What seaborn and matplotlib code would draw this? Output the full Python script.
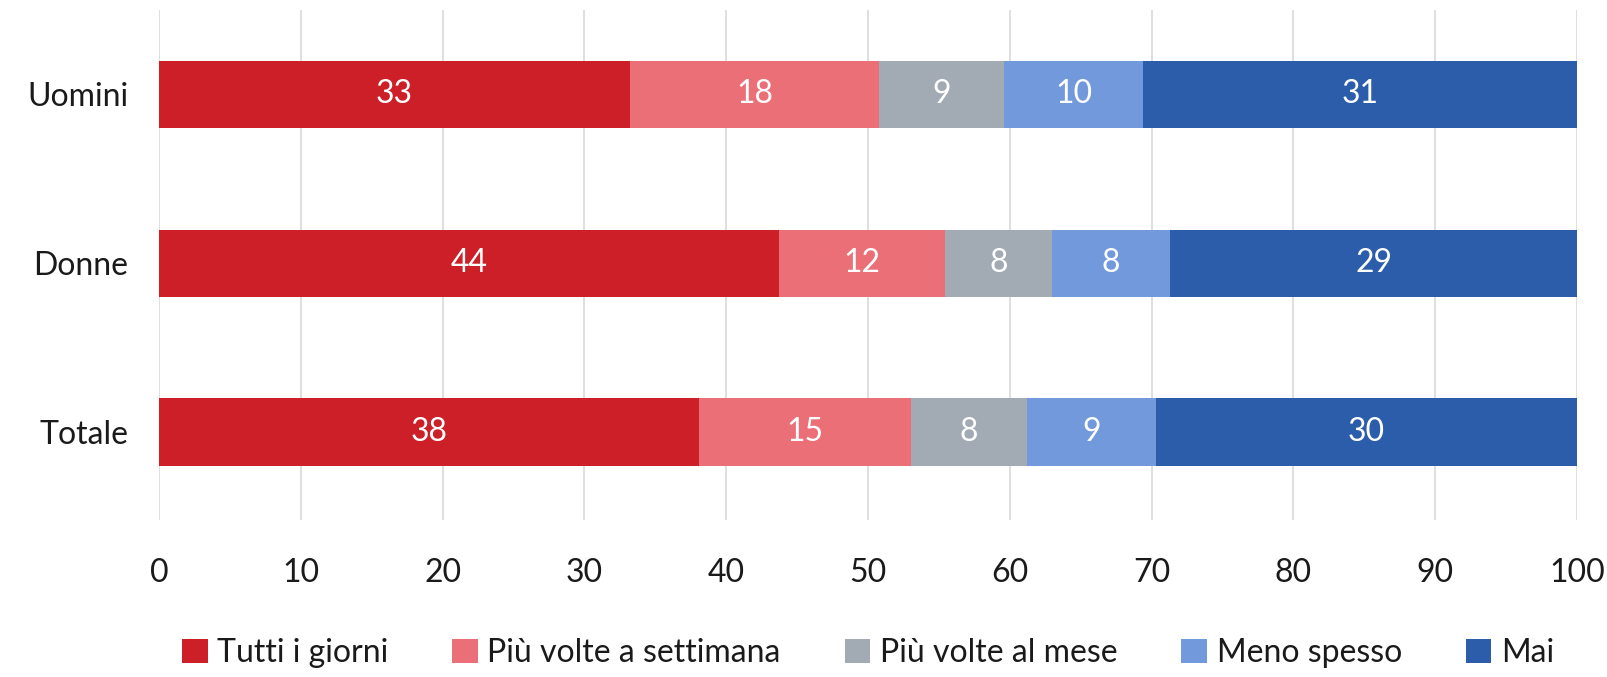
import numpy as np
import pandas as pd
import matplotlib
matplotlib.use("Agg")
import matplotlib.pyplot as plt
from matplotlib.patches import Patch
import seaborn as sns

categories = ["Uomini", "Donne", "Totale"]
series = ["Tutti i giorni", "Più volte a settimana", "Più volte al mese", "Meno spesso", "Mai"]
tutti = [33.2, 43.7, 38.1]
settimana = [17.6, 11.7, 14.9]
mese = [8.8, 7.6, 8.2]
meno = [9.8, 8.3, 9.1]
mai = [30.6, 28.7, 29.7]
colors = ["#CC1F27", "#EB6F76", "#A2AAB3", "#7199DC", "#2C5DAB"]
xticks = [0, 10, 20, 30, 40, 50, 60, 70, 80, 90, 100]

sns.set_style("white")
plt.rcParams["font.family"] = ["Lato", "DejaVu Sans"]
FS = 23
TXT = "#1a1a1a"

values = [tutti, settimana, mese, meno, mai]
df = pd.DataFrame({s: v for s, v in zip(series, values)}, index=categories)
cum = df.cumsum(axis=1)

fig = plt.figure(figsize=(16.08, 6.77), dpi=100)
ax = fig.add_axes([159 / 1608, 1 - 520 / 677, (1577 - 159) / 1608, 510 / 677])

for i in range(len(series) - 1, -1, -1):
    s = series[i]
    d = pd.DataFrame({"cat": categories, "val": cum[s].values})
    sns.barplot(data=d, x="val", y="cat", orient="h", color=colors[i],
                saturation=1, width=0.4, ax=ax, zorder=2, linewidth=0)

for i, s in enumerate(series):
    starts = cum[s].values - df[s].values
    for j, c in enumerate(categories):
        v = df[s].values[j]
        ax.text(starts[j] + v / 2, j, f"{v:.0f}", ha="center", va="center",
                color="white", fontsize=FS, zorder=3)

ax.set_xlim(0, 100)
ax.set_ylim(2.52, -0.5)
ax.set_xticks(xticks)
ax.set_xticklabels([str(t) for t in xticks])
ax.set_xlabel("")
ax.set_ylabel("")
ax.grid(axis="x", color="#D9D9D9", linewidth=1.2, zorder=0)
ax.set_axisbelow(True)
for sp in ax.spines.values():
    sp.set_visible(False)
ax.tick_params(axis="x", length=0, pad=27, labelsize=FS, labelcolor=TXT)
ax.tick_params(axis="y", length=0, pad=22, labelsize=FS, labelcolor=TXT)

handles = [Patch(facecolor=c, edgecolor="none") for c in colors]
leg = fig.legend(handles, series, loc="center",
                 bbox_to_anchor=((159 + 1577) / 2 / 1608, 1 - 653 / 677),
                 ncol=5, frameon=False, fontsize=FS, handlelength=0.8, handleheight=0.8,
                 handletextpad=0.3, columnspacing=2.0)
for t in leg.get_texts():
    t.set_color(TXT)

fig.savefig("out.png", dpi=100)
